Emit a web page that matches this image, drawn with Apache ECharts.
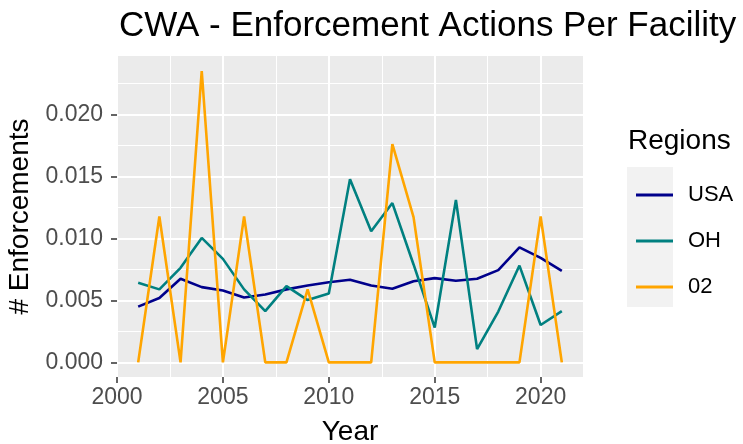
<!DOCTYPE html>
<html>
<head>
<meta charset="utf-8">
<script src="https://cdn.jsdelivr.net/npm/echarts@6/dist/echarts.min.js"></script>
<style>
  html, body { margin: 0; padding: 0; background: #fff; }
  #chart { width: 743px; height: 444px; }
</style>
</head>
<body>
<div id="chart"></div>
<script>
const years = [2001, 2002, 2003, 2004, 2005, 2006, 2007, 2008, 2009, 2010, 2011,
  2012, 2013, 2014, 2015, 2016, 2017, 2018, 2019, 2020, 2021];
const usa = [0.0045, 0.0052, 0.00675, 0.00607, 0.0058, 0.00524, 0.00548, 0.00589, 0.0062, 0.00647, 0.00667,
  0.0062, 0.00594, 0.00655, 0.0068, 0.00658, 0.00675, 0.00744, 0.00928, 0.00843, 0.00739];
const oh = [0.00643, 0.00589, 0.00763, 0.01004, 0.00835, 0.00589, 0.00414, 0.00615, 0.00503, 0.00556, 0.01478,
  0.01057, 0.01285, 0.0079, 0.00281, 0.01311, 0.00107, 0.0041, 0.00781, 0.00302, 0.00414];
const r02 = [0, 0.01177, 0, 0.0235, 0, 0.01177, 0, 0, 0.00589, 0, 0,
  0, 0.01761, 0.01172, 0, 0, 0, 0, 0, 0.01177, 0];
const seriesNames = ['USA', 'OH', '02'];
const colors = ['#00008B', '#008080', '#FFA500'];
const xTicks = [2000, 2005, 2010, 2015, 2020];
const xMinor = [2002.5, 2007.5, 2012.5, 2017.5];
const yTicks = [0, 0.005, 0.01, 0.015, 0.02];
const yMinor = [0.0025, 0.0075, 0.0125, 0.0175, 0.0225];

const toPairs = vals => years.map((y, i) => [y, vals[i]]);
const font = 'Liberation Sans, Arial, sans-serif';

const myChart = echarts.init(document.getElementById('chart'));

const minorX = {
  type: 'value', min: 2000, max: 2022, gridIndex: 0,
  axisLine: { show: false, onZero: false }, axisLabel: { show: false },
  axisTick: { show: false, customValues: xMinor },
  splitLine: { show: true, lineStyle: { color: '#ffffff', width: 1 } }
};
const minorY = {
  type: 'value', min: -0.001176, max: 0.02471, gridIndex: 0,
  axisLine: { show: false, onZero: false }, axisLabel: { show: false },
  axisTick: { show: false, customValues: yMinor },
  splitLine: { show: true, lineStyle: { color: '#ffffff', width: 1 } }
};

const option = {
  animation: false,
  backgroundColor: '#ffffff',
  title: {
    text: 'CWA - Enforcement Actions Per Facility',
    left: 114,
    top: 4,
    textStyle: { fontFamily: font, fontSize: 35, fontWeight: 'normal', color: '#000' }
  },
  grid: {
    left: 117, right: 160, top: 56, bottom: 67,
    outerBoundsMode: 'none',
    containLabel: false,
    show: true, backgroundColor: '#EBEBEB', borderWidth: 0
  },
  legend: {
    orient: 'vertical',
    left: 631,
    top: 167,
    icon: 'rect',
    itemWidth: 37,
    itemHeight: 3,
    itemGap: 0,
    data: seriesNames,
    textStyle: { fontFamily: font, fontSize: 22, color: '#000', lineHeight: 46, padding: [0, 0, 0, 10] }
  },
  graphic: [
    { type: 'rect', z: -1, shape: { x: 627, y: 167, width: 46, height: 140 }, style: { fill: '#F2F2F2' } },
    { type: 'text', left: 628, top: 127, style: { text: 'Regions', font: '28px ' + font, fill: '#000' } }
  ],
  xAxis: [
    {
      type: 'value', min: 2000, max: 2022,
      name: 'Year', nameLocation: 'middle', nameGap: 41,
      nameTextStyle: { fontFamily: font, fontSize: 28, color: '#000' },
      axisLine: { show: false, onZero: false },
      axisTick: { show: true, length: 6, customValues: xTicks, lineStyle: { color: '#333333', width: 1.5 } },
      axisLabel: {
        customValues: xTicks, margin: 9, fontFamily: font, fontSize: 23, color: '#4D4D4D',
        formatter: v => String(v)
      },
      splitLine: { show: true, lineStyle: { color: '#ffffff', width: 2 } }
    },
    minorX
  ],
  yAxis: [
    {
      type: 'value', min: -0.001176, max: 0.02471,
      name: '# Enforcements', nameLocation: 'middle', nameGap: 83,
      nameTextStyle: { fontFamily: font, fontSize: 28, color: '#000' },
      axisLine: { show: false, onZero: false },
      axisTick: { show: true, length: 6, customValues: yTicks, lineStyle: { color: '#333333', width: 1.5 } },
      axisLabel: {
        customValues: yTicks, margin: 14, fontFamily: font, fontSize: 23, color: '#4D4D4D',
        formatter: v => v.toFixed(3)
      },
      splitLine: { show: true, lineStyle: { color: '#ffffff', width: 2 } }
    },
    minorY
  ],
  series: [
    { name: 'USA', type: 'line', data: toPairs(usa) },
    { name: 'OH', type: 'line', data: toPairs(oh) },
    { name: '02', type: 'line', data: toPairs(r02) }
  ].map((s, i) => Object.assign(s, {
    xAxisIndex: 0, yAxisIndex: 0,
    showSymbol: false, symbol: 'none',
    color: colors[i],
    lineStyle: { color: colors[i], width: 2.6 },
    z: 3
  }))
};

myChart.setOption(option);
</script>
</body>
</html>
